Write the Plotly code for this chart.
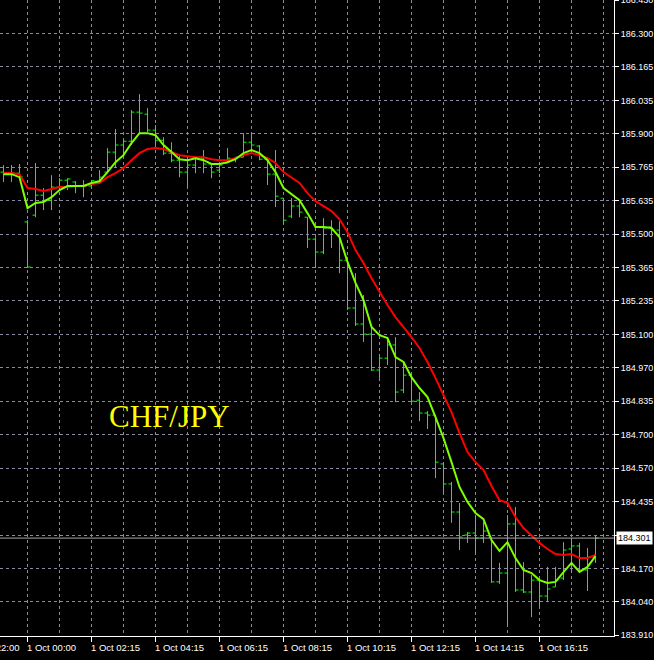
import numpy as np
import plotly.graph_objects as go

# ---------------- data ----------------
symbol = "CHF/JPY"
last_price = 184.301

bar_open = [185.747, 185.739, 185.743, 185.550, 185.577, 185.656, 185.636, 185.688, 185.715, 185.708,
            185.692, 185.692, 185.711, 185.747, 185.826, 185.854, 185.869, 185.984, 185.976, 185.913,
            185.873, 185.822, 185.794, 185.747, 185.775, 185.802, 185.779, 185.755, 185.783, 185.798,
            185.806, 185.865, 185.850, 185.798, 185.739, 185.644, 185.573, 185.613, 185.569, 185.482,
            185.431, 185.530, 185.518, 185.399, 185.210, 185.147, 185.107, 184.965, 185.012, 185.064,
            184.886, 184.945, 184.846, 184.795, 184.787, 184.594, 184.515, 184.404, 184.313, 184.321,
            184.301, 184.305, 184.128, 184.163, 184.357, 184.096, 184.088, 184.135, 184.072, 184.108,
            184.143, 184.258, 184.270, 184.175, 184.226]
bar_high = [185.775, 185.775, 185.779, 185.557, 185.783, 185.684, 185.735, 185.723, 185.723, 185.711,
            185.715, 185.715, 185.755, 185.842, 185.917, 185.873, 185.992, 186.055, 186.000, 185.933,
            185.885, 185.865, 185.814, 185.806, 185.806, 185.834, 185.783, 185.783, 185.842, 185.806,
            185.901, 185.901, 185.854, 185.806, 185.834, 185.644, 185.644, 185.636, 185.569, 185.490,
            185.565, 185.557, 185.553, 185.411, 185.348, 185.261, 185.131, 185.016, 185.095, 185.095,
            184.997, 184.945, 184.878, 184.803, 184.787, 184.601, 184.523, 184.440, 184.325, 184.392,
            184.365, 184.305, 184.203, 184.392, 184.424, 184.206, 184.155, 184.135, 184.187, 184.187,
            184.285, 184.301, 184.282, 184.262, 184.313]
bar_low = [185.708, 185.708, 185.727, 185.368, 185.569, 185.597, 185.597, 185.676, 185.676, 185.664,
           185.648, 185.684, 185.704, 185.747, 185.767, 185.806, 185.854, 185.901, 185.905, 185.854,
           185.814, 185.786, 185.727, 185.688, 185.743, 185.743, 185.723, 185.743, 185.783, 185.786,
           185.806, 185.822, 185.794, 185.696, 185.609, 185.546, 185.565, 185.569, 185.447, 185.368,
           185.423, 185.447, 185.348, 185.202, 185.139, 185.076, 184.961, 184.933, 184.985, 184.838,
           184.874, 184.838, 184.763, 184.732, 184.538, 184.479, 184.361, 184.254, 184.282, 184.242,
           184.282, 184.124, 184.120, 183.958, 184.088, 184.084, 183.989, 184.029, 184.048, 184.108,
           184.135, 184.163, 184.167, 184.092, 184.203]
bar_close = [185.739, 185.743, 185.729, 185.372, 185.656, 185.636, 185.688, 185.715, 185.720, 185.692,
             185.690, 185.713, 185.727, 185.826, 185.854, 185.869, 185.984, 185.980, 185.913, 185.873,
             185.822, 185.794, 185.747, 185.775, 185.802, 185.779, 185.747, 185.775, 185.802, 185.806,
             185.865, 185.854, 185.798, 185.739, 185.652, 185.557, 185.613, 185.589, 185.482, 185.431,
             185.526, 185.518, 185.399, 185.210, 185.147, 185.107, 184.965, 185.012, 185.064, 184.878,
             184.945, 184.842, 184.795, 184.787, 184.601, 184.515, 184.404, 184.305, 184.321, 184.301,
             184.329, 184.128, 184.163, 184.357, 184.096, 184.088, 184.135, 184.072, 184.100, 184.135,
             184.254, 184.270, 184.175, 184.226, 184.301]
ma_fast = [185.739, 185.739, 185.727, 185.605, 185.625, 185.629, 185.648, 185.676, 185.692, 185.692,
           185.692, 185.704, 185.711, 185.747, 185.786, 185.814, 185.862, 185.901, 185.901, 185.893,
           185.854, 185.826, 185.798, 185.794, 185.802, 185.794, 185.779, 185.779, 185.786, 185.798,
           185.822, 185.834, 185.822, 185.794, 185.747, 185.684, 185.660, 185.636, 185.585, 185.530,
           185.530, 185.526, 185.490, 185.392, 185.309, 185.241, 185.135, 185.103, 185.091, 185.016,
           184.997, 184.937, 184.894, 184.858, 184.779, 184.696, 184.601, 184.503, 184.444, 184.400,
           184.376, 184.293, 184.250, 184.285, 184.222, 184.175, 184.163, 184.135, 184.124, 184.128,
           184.167, 184.203, 184.167, 184.187, 184.230]
ma_slow = [185.743, 185.743, 185.739, 185.684, 185.680, 185.672, 185.680, 185.688, 185.688, 185.692,
           185.692, 185.700, 185.704, 185.727, 185.743, 185.763, 185.794, 185.822, 185.838, 185.842,
           185.838, 185.826, 185.814, 185.810, 185.806, 185.806, 185.798, 185.794, 185.794, 185.802,
           185.814, 185.822, 185.814, 185.802, 185.783, 185.747, 185.727, 185.704, 185.664, 185.632,
           185.613, 185.593, 185.561, 185.510, 185.439, 185.388, 185.328, 185.273, 185.222, 185.174,
           185.135, 185.095, 185.052, 184.997, 184.933, 184.866, 184.799, 184.716, 184.641, 184.601,
           184.570, 184.507, 184.451, 184.440, 184.384, 184.341, 184.313, 184.282, 184.258, 184.238,
           184.234, 184.238, 184.222, 184.222, 184.234]

price_labels = ["183.910", "184.040", "184.170", "184.301", "184.435", "184.570", "184.700",
                "184.835", "184.970", "185.100", "185.235", "185.365", "185.500", "185.635",
                "185.765", "185.900", "186.035", "186.165", "186.300", "186.430"]
time_labels = ["30 Sep 22:00", "1 Oct 00:00", "1 Oct 02:15", "1 Oct 04:15", "1 Oct 06:15",
               "1 Oct 08:15", "1 Oct 10:15", "1 Oct 12:15", "1 Oct 14:15", "1 Oct 16:15"]
time_label_bars = [-5, 3, 11, 19, 27, 35, 43, 51, 59, 67]

# ---------------- styling ----------------
BG = "#000000"
GRID = "#8a8aa0"
AXIS = "#ffffff"
BAR = "#00ff00"
FAST = "#7cff00"
SLOW = "#ff0000"
FONT = "Liberation Sans"
FS = 9.5

W, H = 654, 660
ML, MR, MT, MB = 0, 40, 0, 24

idx = list(range(len(bar_open)))
x_range = [-0.4375, 76.3125]
y_range = [183.9142, 186.4270]
y_tickvals = list(np.linspace(183.9170, 186.4266, len(price_labels)))
y_ticktext = [("" if t == f"{last_price:.3f}" else t) for t in price_labels]

fig = go.Figure()
fig.add_trace(go.Ohlc(
    x=idx, open=bar_open, high=bar_high, low=bar_low, close=bar_close,
    increasing=dict(line=dict(color=BAR, width=1)),
    decreasing=dict(line=dict(color=BAR, width=1)),
    tickwidth=0.375, hoverinfo="skip", showlegend=False, opacity=1,
))
fig.add_trace(go.Scatter(x=idx, y=ma_slow, mode="lines",
                         line=dict(color=SLOW, width=2), hoverinfo="skip", showlegend=False))
fig.add_trace(go.Scatter(x=idx, y=ma_fast, mode="lines",
                         line=dict(color=FAST, width=2), hoverinfo="skip", showlegend=False))

fig.add_shape(type="line", xref="paper", x0=0, x1=1, yref="y", y0=last_price, y1=last_price,
              line=dict(color="#a8a8a8", width=1), layer="above")

fig.add_annotation(xref="paper", x=1.0, xanchor="left", xshift=2, yref="y", y=last_price,
                   yanchor="middle", text=f"{last_price:.3f}", showarrow=False,
                   bgcolor="#ffffff", borderpad=1, font=dict(family=FONT, size=9, color="#000000"))

x_span = x_range[1] - x_range[0]
for lab, b in zip(time_labels, time_label_bars):
    fig.add_annotation(xref="paper", x=(b - x_range[0]) / x_span, xanchor="left", xshift=-2,
                       yref="paper", y=0, yanchor="top", yshift=-5,
                       text=lab, showarrow=False, borderpad=0,
                       font=dict(family=FONT, size=FS, color="#ffffff"))

fig.add_annotation(xref="paper", x=169 / 614, xanchor="center", yref="paper", y=1 - 416 / 636,
                   yanchor="middle", text=symbol, showarrow=False,
                   font=dict(family="Liberation Serif", size=31, color="#ffff00"))

fig.update_layout(
    width=W, height=H, autosize=False,
    margin=dict(l=ML, r=MR, t=MT, b=MB, pad=0, autoexpand=False),
    paper_bgcolor=BG, plot_bgcolor=BG,
    showlegend=False,
    xaxis=dict(range=x_range, rangeslider=dict(visible=False), showticklabels=False,
               automargin=False,
               tickmode="array", tickvals=[b for b in time_label_bars if b >= 0],
               ticks="outside", ticklen=5, tickcolor=AXIS, tickwidth=1,
               showgrid=True, gridcolor=GRID, griddash="3px,3px", gridwidth=1,
               minor=dict(tickmode="linear", tick0=3, dtick=4, showgrid=True,
                          gridcolor=GRID, griddash="3px,3px", gridwidth=1, ticks=""),
               showline=True, linecolor=AXIS, linewidth=1, zeroline=False, fixedrange=True),
    yaxis=dict(range=y_range, side="right", tickmode="array", tickvals=y_tickvals,
               automargin=False,
               ticktext=y_ticktext, ticks="outside", ticklen=4, tickcolor=AXIS,
               ticklabelstandoff=0, ticklabeloverflow="allow",
               tickfont=dict(family=FONT, size=9, color="#ffffff"),
               showgrid=True, gridcolor=GRID, griddash="3px,3px", gridwidth=1,
               showline=True, linecolor=AXIS, linewidth=1, zeroline=False, fixedrange=True),
)

fig.write_html(
    "out.html",
    config=dict(displayModeBar=False),
    post_script="document.body.style.margin='0';document.body.style.padding='0';"
                "document.documentElement.style.overflow='hidden';",
)
